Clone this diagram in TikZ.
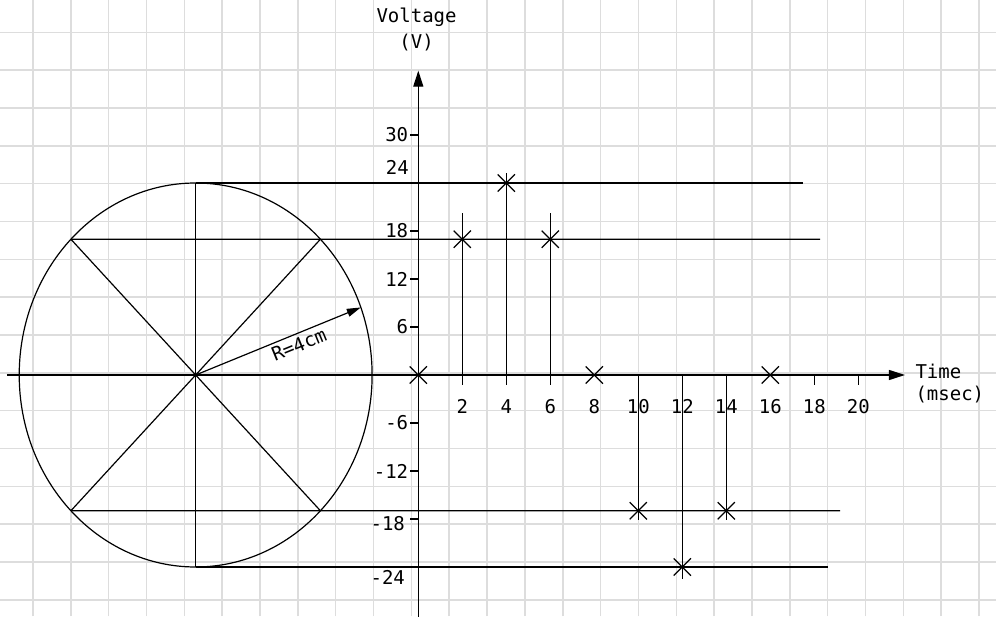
\documentclass[tikz,border=0pt]{standalone}
\usepackage{fontspec}
\setmainfont{DejaVu Sans Mono}
\usetikzlibrary{arrows.meta, shapes.misc, calc}
\definecolor{mygrid}{RGB}{221,221,221}
\definecolor{mydark}{RGB}{0,0,0}
\tikzset{
  gridline/.style={draw=mygrid, line width=1.5pt},
  line/.style={line width=1.2pt, color=mydark},
  axis/.style={-{Triangle[length=16pt, width=10pt]}, line width=1.2pt, color=mydark},
  radarrow/.style={-{Triangle[length=14pt, width=8pt]}, line width=1.2pt, color=mydark},
  xpoint/.style={cross out, draw=mydark, line width=1.2pt, minimum size=16pt, inner sep=0pt},
  axtick/.style={line width=1.2pt, color=mydark}
}

\begin{document}
\begin{tikzpicture}[x=1pt, y=1pt, font=\fontsize{19}{22}\selectfont]
  \useasboundingbox (0,0) rectangle (996,616);

  % Grid
  \foreach \k in {0,...,25}
    \draw[gridline] ({33+37.84*\k},0) -- ({33+37.84*\k},616);
  \foreach \k in {0,...,15}
    \draw[gridline] (0,{583.7-37.84*\k}) -- (996,{583.7-37.84*\k});

  \begin{scope}[shift={(418.3,241)}, x=22pt, y=8pt]
    % Circle
    \coordinate (c) at (-10.12,0);
    \coordinate (top) at ($(c)+(0,24)$);
    \coordinate (bot) at ($(c)+(0,-24)$);
    \coordinate (ne) at ($(c)+({8.02*cos(45)},{24*sin(45)})$);
    \coordinate (nw) at ($(c)+({-8.02*cos(45)},{24*sin(45)})$);
    \coordinate (se) at ($(c)+({8.02*cos(45)},{-24*sin(45)})$);
    \coordinate (sw) at ($(c)+({-8.02*cos(45)},{-24*sin(45)})$);
    \coordinate (rtip) at ($(c)+({8.02*cos(20.6)},{24*sin(20.6)})$);
    \draw[line] (c) ellipse [x radius=8.02, y radius=24];
    \draw[line] (top) -- (bot);
    \draw[line] (ne) -- (sw);
    \draw[line] (nw) -- (se);
    \draw[radarrow] (c) -- node[pos=0.6, below, sloped] {R=4cm} (rtip);

    % Axes
    \draw[axis] (-18.7,0) -- (22.12,0);
    \draw[axis] (0,-30.2) -- (0,38.04);
    \node[align=center, font=\fontsize{19}{26.6}\selectfont] (vlabel) at (-0.08,43.19) {Voltage\\(V)};
    \node[align=left, anchor=west, font=\fontsize{19}{22.7}\selectfont] (tlabel) at (22.44,-1.06) {Time\\(msec)};

    % Ticks
    \foreach \v in {-24,-18,...,30}
      \draw[axtick] (-0.36,\v) -- (0,\v);
    \foreach \v in {-12,-6,6,12,18,30}
      \node[left, inner sep=2pt] (y\v) at (-0.36,\v) {\v};
    \node[anchor=base east, inner sep=0pt] (y24) at (-0.42,25) {24};
    \node[anchor=base east, inner sep=0pt] (y-18) at (-0.6,-19.5) {-18};
    \node[anchor=base east, inner sep=0pt] (y-24) at (-0.6,-26.25) {-24};
    \foreach \t in {18,20}
      \draw[axtick] (\t,0) -- (\t,-1.25);
    \foreach \t in {2,4,...,20}
      \node (x\t) at (\t,-3.96) {\t};

    % Points
    \foreach \t/\v in {0/0, 2/16.97, 4/24, 6/16.97, 8/0, 10/-16.97, 12/-24, 14/-16.97, 16/0}
      \node[xpoint] (p\t) at (\t,\v) {};

    % Projection lines
    \draw[line] (2,-1.25) -- (2,20.3);
    \draw[line] (4,-1.25) -- (4,25.3);
    \draw[line] (6,-1.25) -- (6,20.3);
    \draw[line] (10,0) -- (10,-18.1);
    \draw[line] (12,0) -- (12,-25.5);
    \draw[line] (14,0) -- (14,-18.1);
    \draw[line] (top) -- (17.49,24);
    \draw[line] (nw) -- (18.26,16.97);
    \draw[line] (sw) -- (19.17,-16.97);
    \draw[line] (bot) -- (18.61,-24);
  \end{scope}
\end{tikzpicture}
\end{document}
